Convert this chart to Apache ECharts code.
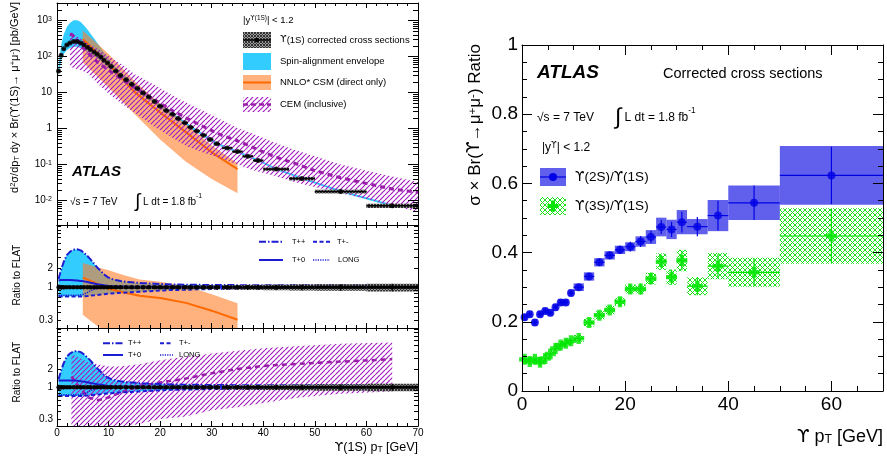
<!DOCTYPE html>
<html>
<head>
<meta charset="utf-8">
<title>Upsilon cross sections</title>
<script src="https://cdn.jsdelivr.net/npm/echarts@6/dist/echarts.min.js"></script>
<style>
  html, body { margin: 0; padding: 0; background: #fff; }
  #chart { width: 887px; height: 459px; }
</style>
</head>
<body>
<div id="chart"></div>
<script>
// ---- Y(1S) corrected cross section, left top pad ----
const xsPt = [0.3, 0.8, 1.3, 1.9, 2.5, 3.2, 3.9, 4.6, 5.2, 5.9, 6.5, 7.2, 7.8, 8.5, 9.1, 9.8, 10.5, 11.4, 12.3, 13.4,
  14.5, 15.6, 16.7, 17.8, 18.9, 20, 21.2, 22.4, 23.5, 24.8, 25.9, 27.1, 28.4, 29.7, 31, 33, 35, 37, 39, 42.5, 47.5, 55, 65];
const xsHalfW = [0.25, 0.25, 0.3, 0.3, 0.3, 0.3, 0.3, 0.3, 0.3, 0.3, 0.3, 0.3, 0.3, 0.3, 0.3, 0.3, 0.5, 0.5, 0.5, 0.5,
  0.5, 0.5, 0.5, 0.5, 0.5, 0.6, 0.6, 0.6, 0.6, 0.6, 0.6, 0.6, 0.6, 0.6, 0.6, 1, 1, 1, 1, 2.5, 2.5, 5, 5];
const xsVal = [40, 110, 165, 210, 240, 262, 262, 240, 213, 183, 158, 135, 117, 98, 80, 67, 53, 40, 30, 23,
  17, 13, 9.8, 7.6, 5.7, 4.2, 3.2, 2.5, 1.9, 1.45, 1.1, 0.86, 0.66, 0.5, 0.38, 0.29, 0.23, 0.17, 0.13, 0.075, 0.041, 0.018, 0.0072];
const xsRelErr = [0.1, 0.08, 0.07, 0.06, 0.06, 0.06, 0.06, 0.06, 0.06, 0.06, 0.06, 0.06, 0.06, 0.06, 0.06, 0.06, 0.06, 0.06, 0.06, 0.06,
  0.06, 0.06, 0.06, 0.06, 0.06, 0.06, 0.06, 0.06, 0.06, 0.07, 0.07, 0.07, 0.07, 0.07, 0.08, 0.08, 0.08, 0.09, 0.09, 0.1, 0.11, 0.12, 0.14];

// spin-alignment scenarios, ratio to FLAT at the same pT points
const envHi = [1.35, 1.9, 2.5, 3.2, 3.6, 3.9, 3.95, 3.8, 3.5, 3.1, 2.75, 2.35, 2.05, 1.8, 1.6, 1.45, 1.36, 1.3, 1.26, 1.22,
  1.2, 1.18, 1.16, 1.15, 1.14, 1.13, 1.12, 1.11, 1.11, 1.1, 1.1, 1.1, 1.09, 1.09, 1.09, 1.09, 1.08, 1.08, 1.08, 1.08, 1.08, 1.08, 1.08];
const envLo = [0.72, 0.72, 0.72, 0.72, 0.72, 0.72, 0.72, 0.72, 0.72, 0.73, 0.74, 0.75, 0.76, 0.77, 0.78, 0.79, 0.8, 0.81, 0.82, 0.83,
  0.84, 0.85, 0.86, 0.87, 0.88, 0.89, 0.9, 0.91, 0.91, 0.92, 0.92, 0.93, 0.93, 0.94, 0.94, 0.94, 0.95, 0.95, 0.95, 0.95, 0.95, 0.95, 0.95];
const envT0 = [1.28, 1.3, 1.3, 1.3, 1.3, 1.29, 1.28, 1.26, 1.24, 1.21, 1.18, 1.15, 1.12, 1.1, 1.08, 1.06, 1.05, 1.04, 1.03, 1.03,
  1.02, 1.02, 1.02, 1.02, 1.02, 1.02, 1.02, 1.02, 1.02, 1.02, 1.02, 1.02, 1.02, 1.02, 1.02, 1.02, 1.02, 1.02, 1.02, 1.02, 1.02, 1.02, 1.02];
const envLong = [0.75, 0.75, 0.75, 0.75, 0.75, 0.75, 0.75, 0.76, 0.78, 0.83, 0.88, 0.93, 0.97, 0.98, 0.98, 0.98, 0.98, 0.98, 0.98, 0.98,
  0.98, 0.98, 0.98, 0.98, 0.99, 0.99, 0.99, 0.99, 0.99, 0.99, 0.99, 0.99, 0.99, 0.99, 0.99, 0.99, 0.99, 0.99, 0.99, 0.99, 0.99, 0.99, 0.99];

// NNLO* CSM (direct only)
const nnloPt = [5, 10, 15, 20, 25, 30, 35];
const nnloMid = [310, 62, 10.5, 2.8, 0.8, 0.22, 0.075];
const nnloHi = [530, 118, 21, 4.9, 1.35, 0.34, 0.11];
const nnloLo = [70, 14, 2.6, 0.5, 0.12, 0.04, 0.016];
const nnloRatioPt = [5, 8, 10, 13, 16, 20, 25, 30, 35];
const nnloRatioMid = [1.42, 1.12, 0.95, 0.83, 0.74, 0.68, 0.57, 0.43, 0.31];
const nnloRatioHi = [2.4, 2.05, 1.85, 1.55, 1.33, 1.22, 1.05, 0.78, 0.56];
const nnloRatioLo = [0.37, 0.24, 0.2, 0.17, 0.15, 0.13, 0.1, 0.08, 0.07];

// CEM (inclusive)
const cemPt = [2.5, 3, 4, 5, 6, 8, 10, 12.5, 15, 19, 22, 25, 28.6, 32, 35, 38, 42, 46, 50, 55, 60, 65, 70];
const cemMid = [420, 400, 280, 180, 125, 68, 42, 24, 14, 6.2, 3.4, 2.0, 1.1, 0.65, 0.46, 0.3, 0.17, 0.11, 0.068, 0.043, 0.03, 0.021, 0.017];
const cemHi = [490, 460, 360, 300, 234, 160, 105, 62, 33, 16, 9, 5.3, 3.0, 1.7, 1.05, 0.72, 0.42, 0.26, 0.17, 0.1, 0.068, 0.047, 0.033];
const cemLo = [52, 50, 45, 40, 34, 17, 9.5, 5, 2.8, 1.1, 0.6, 0.33, 0.21, 0.145, 0.1, 0.07, 0.05, 0.033, 0.024, 0.016, 0.011, 0.0072, 0.0048];
const cemRatioPt = [2.8, 4, 6, 8, 10, 12, 16, 20, 25, 30, 35, 40, 47, 55, 65];
const cemRatioMid = [1.5, 1.1, 0.68, 0.61, 0.68, 0.8, 1.05, 1.2, 1.4, 1.7, 2.0, 2.25, 2.45, 2.65, 2.9];
const cemRatioHi = [3.5, 3.2, 2.6, 2.4, 2.2, 2.2, 2.4, 2.8, 3.2, 3.6, 4.0, 4.4, 4.8, 5.2, 5.5];
const cemRatioLo = [0.2, 0.2, 0.2, 0.2, 0.2, 0.21, 0.25, 0.3, 0.33, 0.42, 0.47, 0.55, 0.68, 0.78, 0.85];

// ---- right: Y(2S)/Y(1S) and Y(3S)/Y(1S) ----
const ratioPt = [0.5, 1.5, 2.5, 3.5, 4.5, 5.5, 6.5, 7.5, 8.5, 9.5, 11, 13, 15, 17, 19, 21, 23, 25, 27, 29, 31, 34, 38, 45, 60];
const ratioHalfW = [0.5, 0.5, 0.5, 0.5, 0.5, 0.5, 0.5, 0.5, 0.5, 0.5, 1, 1, 1, 1, 1, 1, 1, 1, 1, 1, 1, 2, 2, 5, 10];
const ups2S = [0.213, 0.222, 0.198, 0.222, 0.231, 0.226, 0.242, 0.256, 0.256, 0.283, 0.3, 0.331, 0.372, 0.392, 0.408,
  0.417, 0.432, 0.445, 0.474, 0.467, 0.488, 0.475, 0.507, 0.544, 0.623];
const ups2SSys = [0.01, 0.01, 0.01, 0.01, 0.01, 0.01, 0.01, 0.01, 0.01, 0.01, 0.011, 0.012, 0.012, 0.012, 0.012,
  0.013, 0.015, 0.02, 0.027, 0.028, 0.035, 0.022, 0.045, 0.05, 0.085];
const ups2SStat = [0.006, 0.006, 0.006, 0.006, 0.006, 0.006, 0.006, 0.006, 0.006, 0.006, 0.008, 0.009, 0.01, 0.011, 0.012,
  0.014, 0.016, 0.018, 0.02, 0.022, 0.03, 0.028, 0.043, 0.05, 0.083];
const ups3S = [0.0915, 0.085, 0.092, 0.083, 0.094, 0.107, 0.123, 0.133, 0.138, 0.145, 0.152, 0.198, 0.219, 0.234, 0.258,
  0.295, 0.295, 0.325, 0.374, 0.329, 0.377, 0.303, 0.361, 0.343, 0.448];
const ups3SSys = [0.01, 0.01, 0.01, 0.01, 0.01, 0.01, 0.01, 0.01, 0.01, 0.01, 0.01, 0.012, 0.012, 0.012, 0.012,
  0.013, 0.013, 0.017, 0.024, 0.022, 0.031, 0.026, 0.038, 0.042, 0.08];
const ups3SStat = [0.006, 0.006, 0.006, 0.006, 0.006, 0.006, 0.006, 0.006, 0.006, 0.006, 0.008, 0.009, 0.01, 0.011, 0.012,
  0.014, 0.016, 0.018, 0.02, 0.022, 0.028, 0.026, 0.035, 0.04, 0.078];

// tick labels
const leftXLabels = [0, 10, 20, 30, 40, 50, 60, 70];
const xsYLabels = [0.01, 0.1, 1, 10, 100, 1000];
const ratioYLabels = [0.3, 1, 2];
const rightXLabels = [0, 20, 40, 60];
const rightYLabels = [0, 0.2, 0.4, 0.6, 0.8, 1];

// minor ticks
const leftXMinor = [];
for (let v = 2; v < 70; v += 2) if (v % 10) leftXMinor.push(v);
const xsYMinor = [];
for (let e = -3; e <= 3; e++) for (let k = 2; k <= 9; k++) xsYMinor.push(+(k * Math.pow(10, e)).toPrecision(3));
const ratioYMinor = [0.3, 0.4, 0.5, 0.6, 0.7, 0.8, 0.9, 2, 3, 4, 5, 6, 7, 8, 9];
const rightXMinor = [];
for (let v = 5; v <= 70; v += 5) if (v % 20) rightXMinor.push(v);
const rightYMinor = [];
for (let i = 1; i < 20; i++) if (i % 4) rightYMinor.push(+(i * 0.05).toFixed(2));

const FONT = '"Liberation Sans", Arial, Helvetica, sans-serif';
const UPS_FONT = '"DejaVu Sans", sans-serif';
const cyan = '#33ccff';
const orangeFill = 'rgba(255,125,40,0.6)';
const orangeLine = '#ff6a00';
const purple = '#a21cbf';
const blueLine = '#1c1cd2';
const blueBox = 'rgba(40,40,230,0.74)';

function hatch(size, color, width, bg, both) {
  const c = document.createElement('canvas');
  c.width = c.height = size;
  const g = c.getContext('2d');
  if (bg) { g.fillStyle = bg; g.fillRect(0, 0, size, size); }
  g.strokeStyle = color;
  g.lineWidth = width;
  g.beginPath();
  for (const o of [-size, 0, size]) { g.moveTo(o, size); g.lineTo(o + size, 0); }
  if (both) for (const o of [-size, 0, size]) { g.moveTo(o, 0); g.lineTo(o + size, size); }
  g.stroke();
  return { image: c, repeat: 'repeat' };
}
const purpleHatch = hatch(5, purple, 1.2, null, false);
const greenHatch = hatch(5, '#1de21d', 1, null, true);
const grayHatch = hatch(3, '#333', 1, '#9a9a9a', true);

// ---- axes: every grid gets 4 x and 4 y axes (major/minor, both sides) ----
function axis(gi, type, position, min, max, ticks, len, labels, extra, line) {
  return {
    type, gridIndex: gi, position, min, max, z: 10,
    axisLine: { show: line, onZero: false, lineStyle: { color: '#000', width: 1 } },
    axisTick: { show: true, inside: true, length: len, customValues: ticks, lineStyle: { color: '#000', width: 1 } },
    axisLabel: labels ? Object.assign({ show: true, customValues: labels, color: '#000', fontFamily: FONT }, extra) : { show: false },
    splitLine: { show: false }
  };
}
const xAxes = [], yAxes = [];
function addAxes(gi, xMaj, xMin2, xLen, xLabels, xExtra, yType, yMin, yMax, yMaj, yMin2, yLen, yLabels, yExtra) {
  xAxes.push(axis(gi, 'value', 'bottom', 0, 70, xMaj, xLen[0], xLabels, xExtra, true));
  xAxes.push(axis(gi, 'value', 'bottom', 0, 70, xMin2, xLen[1], null, null, false));
  xAxes.push(axis(gi, 'value', 'top', 0, 70, xMaj, xLen[0], null, null, true));
  xAxes.push(axis(gi, 'value', 'top', 0, 70, xMin2, xLen[1], null, null, false));
  yAxes.push(axis(gi, yType, 'left', yMin, yMax, yMaj, yLen[0], yLabels, yExtra, true));
  yAxes.push(axis(gi, yType, 'left', yMin, yMax, yMin2, yLen[1], null, null, false));
  yAxes.push(axis(gi, yType, 'right', yMin, yMax, yMaj, yLen[0], null, null, true));
  yAxes.push(axis(gi, yType, 'right', yMin, yMax, yMin2, yLen[1], null, null, false));
}
const supRich = { s: { fontSize: 7, verticalAlign: 'top', fontFamily: FONT, color: '#000' } };
addAxes(0, leftXLabels, leftXMinor, [5, 3], null, null,
  'log', 0.0021, 3100, xsYLabels, xsYMinor, [10, 5], xsYLabels,
  { fontSize: 10, margin: 5, rich: supRich,
    formatter: v => { const e = Math.round(Math.log10(v)); return e === 0 ? '1' : e === 1 ? '10' : '10{s|' + e + '}'; } });
addAxes(1, leftXLabels, leftXMinor, [5, 3], null, null,
  'log', 0.23, 9.5, [1], ratioYMinor, [8, 4], ratioYLabels, { fontSize: 10, margin: 4, formatter: v => String(v) });
addAxes(2, leftXLabels, leftXMinor, [5, 3], leftXLabels, { fontSize: 10, margin: 2, formatter: v => String(v) },
  'log', 0.23, 9.5, [1], ratioYMinor, [8, 4], ratioYLabels, { fontSize: 10, margin: 4, formatter: v => String(v) });
addAxes(3, rightXLabels, rightXMinor, [10, 5], rightXLabels, { fontSize: 19, margin: 4 },
  'value', 0, 1, rightYLabels, rightYMinor, [10, 5], rightYLabels, { fontSize: 19, margin: 4 });

// ---- series helpers ----
function band(gi, xs, lo, hi, fill, z) {
  return {
    type: 'custom', xAxisIndex: gi * 4, yAxisIndex: gi * 4, clip: true, silent: true, z,
    data: [[xs[0], hi[0]]],
    renderItem: (params, api) => {
      const pts = [];
      for (let i = 0; i < xs.length; i++) pts.push(api.coord([xs[i], hi[i]]));
      for (let i = xs.length - 1; i >= 0; i--) pts.push(api.coord([xs[i], lo[i]]));
      return { type: 'polygon', shape: { points: pts }, style: { fill } };
    }
  };
}
function curve(gi, xs, ys, color, width, dash, z) {
  return {
    type: 'line', xAxisIndex: gi * 4, yAxisIndex: gi * 4, clip: true, silent: true, z,
    data: xs.map((x, i) => [x, ys[i]]), symbol: 'none', showSymbol: false,
    lineStyle: { color, width, type: dash || 'solid' }
  };
}
function xsPoints(gi, vals, barW, dotSize) {
  return [{
    type: 'custom', xAxisIndex: gi * 4, yAxisIndex: gi * 4, clip: true, silent: true, z: 6,
    data: xsPt.map((x, i) => [x, vals[i], xsHalfW[i], xsRelErr[i]]),
    renderItem: (params, api) => {
      const x = api.value(0), y = api.value(1), hw = api.value(2), r = api.value(3);
      const a = api.coord([x - hw, y * (1 + r)]);
      const b = api.coord([x + hw, y * (1 - r)]);
      const c = api.coord([x, y]);
      return { type: 'group', children: [
        { type: 'rect', shape: { x: a[0], y: a[1], width: b[0] - a[0], height: b[1] - a[1] }, style: { fill: grayHatch } },
        { type: 'line', shape: { x1: a[0], y1: c[1], x2: b[0], y2: c[1] }, style: { stroke: '#000', lineWidth: barW } },
        { type: 'line', shape: { x1: c[0], y1: a[1], x2: c[0], y2: b[1] }, style: { stroke: '#000', lineWidth: 1 } }
      ] };
    }
  }, {
    type: 'scatter', xAxisIndex: gi * 4, yAxisIndex: gi * 4, silent: true, z: 7,
    data: xsPt.map((x, i) => [x, vals[i]]), symbol: 'circle', symbolSize: dotSize,
    itemStyle: { color: '#000' }
  }];
}
function ratioPoints(vals, sys, stat, boxFill, color, symbol, size) {
  return [{
    type: 'custom', xAxisIndex: 12, yAxisIndex: 12, clip: true, silent: true, z: 5,
    data: ratioPt.map((x, i) => [x, vals[i], ratioHalfW[i], sys[i], stat[i]]),
    renderItem: (params, api) => {
      const x = api.value(0), y = api.value(1), hw = api.value(2), s = api.value(3), st = api.value(4);
      const a = api.coord([x - hw, y + s]);
      const b = api.coord([x + hw, y - s]);
      const c = api.coord([x, y]);
      const e1 = api.coord([x, y + st]), e2 = api.coord([x, y - st]);
      return { type: 'group', children: [
        { type: 'rect', shape: { x: a[0], y: a[1], width: b[0] - a[0], height: b[1] - a[1] }, style: { fill: boxFill } },
        { type: 'line', shape: { x1: a[0], y1: c[1], x2: b[0], y2: c[1] }, style: { stroke: color, lineWidth: 1.2 } },
        { type: 'line', shape: { x1: c[0], y1: e1[1], x2: c[0], y2: e2[1] }, style: { stroke: color, lineWidth: 1.2 } }
      ] };
    }
  }, {
    type: 'scatter', xAxisIndex: 12, yAxisIndex: 12, silent: true, z: 7,
    data: ratioPt.map((x, i) => [x, vals[i]]), symbol, symbolSize: size,
    itemStyle: { color }
  }];
}

const ones = xsPt.map(() => 1);
const crossPath = 'path://M3,0H7V3H10V7H7V10H3V7H0V3H3Z';

const series = [
  // top pad
  band(0, xsPt, xsVal.map((v, i) => v * envLo[i]), xsVal.map((v, i) => v * envHi[i]), cyan, 1),
  band(0, nnloPt, nnloLo, nnloHi, orangeFill, 2),
  curve(0, nnloPt, nnloMid, orangeLine, 2, 'solid', 3),
  band(0, cemPt, cemLo, cemHi, purpleHatch, 4),
  curve(0, cemPt, cemMid, '#9a1fa8', 3, [5, 4], 5),
  ...xsPoints(0, xsVal, 1.5, 5),
  // middle pad
  band(1, xsPt, envLo, envHi, cyan, 1),
  band(1, nnloRatioPt, nnloRatioLo, nnloRatioHi, orangeFill, 2),
  curve(1, nnloRatioPt, nnloRatioMid, orangeLine, 2, 'solid', 3),
  curve(1, xsPt, envHi, blueLine, 2, [7, 2, 1.5, 2], 4),
  curve(1, xsPt, envLo, blueLine, 2, [4, 2.5], 4),
  curve(1, xsPt, envT0, blueLine, 2, 'solid', 4),
  curve(1, xsPt, envLong, blueLine, 1.6, [1.2, 1.2], 4),
  ...xsPoints(1, ones, 3, 4.5),
  // bottom pad
  band(2, xsPt, envLo, envHi, cyan, 1),
  band(2, cemRatioPt, cemRatioLo, cemRatioHi, purpleHatch, 2),
  curve(2, cemRatioPt, cemRatioMid, '#9a1fa8', 2.5, [5, 4], 3),
  curve(2, xsPt, envHi, blueLine, 2, [7, 2, 1.5, 2], 4),
  curve(2, xsPt, envLo, blueLine, 2, [4, 2.5], 4),
  curve(2, xsPt, envT0, blueLine, 2, 'solid', 4),
  curve(2, xsPt, envLong, blueLine, 1.6, [1.2, 1.2], 4),
  ...xsPoints(2, ones, 3, 4.5),
  // right pad
  ...ratioPoints(ups2S, ups2SSys, ups2SStat, blueBox, '#0000e6', 'circle', 8),
  ...ratioPoints(ups3S, ups3SSys, ups3SStat, greenHatch, '#00e600', crossPath, 11)
];

// ---- texts and legends ----
function rich(size) {
  return {
    s: { fontSize: size * 0.68, verticalAlign: 'top', fontFamily: FONT, fill: '#000' },
    b: { fontSize: size * 0.68, verticalAlign: 'bottom', fontFamily: FONT, fill: '#000' },
    i: { fontSize: size * 1.9, fontFamily: FONT, fill: '#000' },
    u: { fontSize: size, fontFamily: UPS_FONT, fill: '#000' },
    su: { fontSize: size * 0.68, verticalAlign: 'top', fontFamily: UPS_FONT, fill: '#000' }
  };
}
function txt(x, y, text, size, opt) {
  opt = opt || {};
  const el = {
    type: 'text', x, y, z: 20, silent: true,
    style: Object.assign({ text, fontSize: size, fontFamily: FONT, fill: '#000', align: 'left', verticalAlign: 'middle', rich: rich(size) }, opt.style || {})
  };
  if (opt.rotation !== undefined) el.rotation = opt.rotation;
  return el;
}
function seg(x1, y1, x2, y2, stroke, lineWidth, lineDash) {
  return { type: 'line', z: 20, silent: true, shape: { x1, y1, x2, y2 }, style: { stroke, lineWidth, lineDash: lineDash || null } };
}
function box(x, y, w, h, fill) {
  return { type: 'rect', z: 19, silent: true, shape: { x, y, width: w, height: h }, style: { fill } };
}
const UP = Math.PI / 2;

const graphics = [
  // left column titles
  txt(15, 2, 'd{s|2}σ/dp{b|T} dy × Br({u|ϒ}(1S)→ μ{s|+}μ{s|-}) [pb/GeV]', 11, { rotation: UP, style: { align: 'right' } }),
  txt(17, 275, 'Ratio to FLAT', 10, { rotation: UP, style: { align: 'center' } }),
  txt(17, 372, 'Ratio to FLAT', 10, { rotation: UP, style: { align: 'center' } }),
  txt(418, 448, '{u|ϒ}(1S) p{b|T} [GeV]', 12.5, { style: { align: 'right' } }),
  // top pad annotations
  txt(243, 20, '|y{su|ϒ}{s|(1S)}| < 1.2', 9.5),
  box(243, 32, 28, 16, grayHatch), seg(243, 40, 271, 40, '#000', 1.5),
  { type: 'circle', z: 20, silent: true, shape: { cx: 257, cy: 40, r: 2.2 }, style: { fill: '#000' } },
  txt(280, 40, '{u|ϒ}(1S) corrected cross sections', 9.5),
  box(243, 53, 28, 17, cyan),
  txt(280, 61.5, 'Spin-alignment envelope', 9.5),
  box(243, 75, 28, 15, orangeFill), seg(243, 82.5, 271, 82.5, orangeLine, 2),
  txt(280, 82.5, 'NNLO* CSM (direct only)', 9.5),
  box(243, 97, 28, 15, purpleHatch), seg(243, 104.5, 271, 104.5, '#9a1fa8', 2.5, [5, 3]),
  txt(280, 104.5, 'CEM (inclusive)', 9.5),
  txt(72, 172, 'ATLAS', 15, { style: { fontWeight: 'bold', fontStyle: 'italic' } }),
  txt(70, 202, '√s = 7 TeV', 10),
  txt(135, 202, '{i|∫} L dt = 1.8 fb{s|-1}', 10),
  // middle pad legend
  seg(259, 241.7, 283, 241.7, blueLine, 2, [7, 2, 1.5, 2]), txt(292, 241.7, 'T++', 7.5),
  seg(313, 241.7, 330, 241.7, blueLine, 2, [4, 2.5]), txt(337, 241.7, 'T+-', 7.5),
  seg(259, 260, 283, 260, blueLine, 2), txt(292, 260, 'T+0', 7.5),
  seg(313, 260, 330, 260, blueLine, 1.6, [1.2, 1.2]), txt(338, 260, 'LONG', 7.5),
  // bottom pad legend
  seg(103, 343.3, 123, 343.3, blueLine, 2, [7, 2, 1.5, 2]), txt(128, 343.3, 'T++', 7.5),
  seg(160, 343.3, 173, 343.3, blueLine, 2, [4, 2.5]), txt(179, 343.3, 'T+-', 7.5),
  seg(103, 355, 123, 355, blueLine, 2), txt(128, 355, 'T+0', 7.5),
  seg(160, 355, 173, 355, blueLine, 1.6, [1.2, 1.2]), txt(179, 355, 'LONG', 7.5),
  // right pad
  txt(475, 44, 'σ × Br({u|ϒ}→μ{s|+}μ{s|-}) Ratio', 17, { rotation: UP, style: { align: 'right' } }),
  txt(883, 437, '{u|ϒ} p{b|T} [GeV]', 18, { style: { align: 'right' } }),
  txt(537, 73, 'ATLAS', 19, { style: { fontWeight: 'bold', fontStyle: 'italic' } }),
  txt(663, 74, 'Corrected cross sections', 14.5),
  txt(537, 118, '√s = 7 TeV', 12),
  txt(615, 118, '{i|∫} L dt = 1.8 fb{s|-1}', 12),
  txt(542, 148, '|y{su|ϒ}| < 1.2', 12),
  box(540, 168, 26, 18, blueBox), seg(540, 177, 566, 177, '#0000e6', 1.2),
  { type: 'circle', z: 20, silent: true, shape: { cx: 553, cy: 177, r: 4 }, style: { fill: '#0000e6' } },
  txt(575, 177, '{u|ϒ}(2S)/{u|ϒ}(1S)', 13.5),
  box(540, 197, 26, 18, greenHatch),
  { type: 'polygon', z: 20, silent: true, shape: { points: [[551, 200.5], [555, 200.5], [555, 204], [558.5, 204], [558.5, 208], [555, 208], [555, 211.5], [551, 211.5], [551, 208], [547.5, 208], [547.5, 204], [551, 204]] }, style: { fill: '#00e600' } },
  txt(575, 206, '{u|ϒ}(3S)/{u|ϒ}(1S)', 13.5)
];

const chart = echarts.init(document.getElementById('chart'));
chart.setOption({
  animation: false,
  backgroundColor: '#fff',
  textStyle: { fontFamily: FONT },
  grid: [
    { left: 57, top: 3, width: 361, height: 222, containLabel: false, outerBoundsMode: 'none' },
    { left: 57, top: 225, width: 361, height: 103, containLabel: false, outerBoundsMode: 'none' },
    { left: 57, top: 328, width: 361, height: 98, containLabel: false, outerBoundsMode: 'none' },
    { left: 522, top: 45, width: 361, height: 346, containLabel: false, outerBoundsMode: 'none' }
  ],
  xAxis: xAxes,
  yAxis: yAxes,
  series,
  graphic: { elements: graphics }
});
</script>
</body>
</html>
